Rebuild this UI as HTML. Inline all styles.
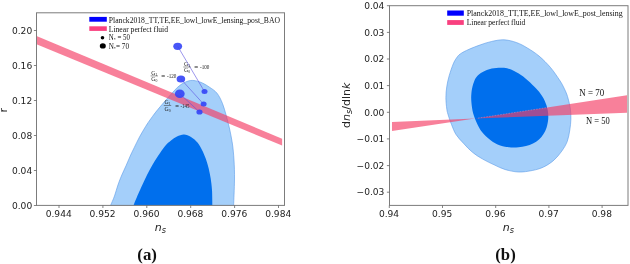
<!DOCTYPE html>
<html><head><meta charset="utf-8"><title>figure</title>
<style>
html,body{margin:0;padding:0;background:#fff;}
svg{display:block;}
.t{font-family:"DejaVu Sans",sans-serif;font-size:9.1px;fill:#222;}
.l{font-family:"DejaVu Sans",sans-serif;font-size:11px;fill:#222;}
.cap{font-family:"Liberation Serif",serif;font-weight:bold;font-size:16px;fill:#111;}
.s{font-family:"Liberation Serif",serif;font-size:8.6px;fill:#111;}
.s2{font-family:"Liberation Serif",serif;font-size:7.6px;fill:#111;}
.s3{font-family:"Liberation Serif",serif;font-size:5.8px;fill:#222;}
.n{font-family:"Liberation Serif",serif;font-size:11px;fill:#111;}
</style></head><body>
<svg width="630" height="264" viewBox="0 0 630 264">
<rect width="630" height="264" fill="#fff"/>
<clipPath id="ca"><rect x="36.5" y="12.8" width="248.0" height="192.6"/></clipPath>
<g clip-path="url(#ca)">
<path d="M110.5,205.5C111.2,203.9 113.3,199.4 114.5,196.0C115.7,192.6 116.7,188.6 117.9,185.1C119.1,181.6 120.4,178.2 121.8,175.0C123.2,171.8 124.7,168.7 126.1,165.6C127.5,162.5 128.7,159.5 130.0,156.5C131.3,153.5 132.6,150.9 134.2,147.7C135.8,144.4 137.6,140.5 139.5,137.0C141.4,133.5 143.7,129.6 145.6,126.5C147.5,123.4 149.0,121.3 151.0,118.5C153.0,115.7 154.9,113.1 157.6,109.8C160.3,106.5 164.3,101.9 167.0,98.8C169.7,95.7 171.7,93.4 174.0,91.0C176.3,88.6 178.2,86.2 181.0,84.5C183.8,82.8 187.3,80.9 190.5,80.5C193.7,80.1 196.8,80.9 200.0,82.0C203.2,83.1 206.7,85.3 209.5,87.2C212.3,89.1 214.8,90.5 217.0,93.2C219.2,95.9 221.0,99.8 222.5,103.5C224.0,107.2 225.0,111.3 226.2,115.4C227.3,119.5 228.4,123.4 229.4,128.0C230.4,132.6 231.5,137.7 232.3,143.0C233.1,148.3 233.6,153.8 234.0,160.0C234.4,166.2 234.6,172.4 234.5,180.0C234.4,187.6 233.8,201.2 233.6,205.5L110.5,205.5Z" fill="#a4cffa" stroke="#5b9be8" stroke-width="0.6"/>
<path d="M133.5,205.5C134.2,203.7 136.5,197.9 138.0,194.5C139.5,191.1 140.8,188.3 142.3,185.1C143.8,181.8 145.4,178.2 147.0,175.0C148.6,171.8 150.3,168.8 152.1,165.6C153.9,162.4 155.8,159.3 158.0,156.0C160.2,152.7 162.9,148.6 165.1,146.0C167.3,143.4 169.0,142.1 171.0,140.5C173.0,138.9 174.8,137.5 177.0,136.5C179.2,135.5 181.7,134.4 184.0,134.5C186.3,134.6 188.7,135.6 191.0,137.0C193.3,138.4 195.9,140.6 197.7,142.8C199.5,145.0 200.6,147.3 202.0,150.0C203.4,152.7 204.8,156.0 205.9,159.1C207.0,162.2 207.9,165.2 208.7,168.5C209.5,171.8 210.1,175.0 210.7,178.6C211.2,182.2 211.7,185.5 212.0,190.0C212.3,194.5 212.3,202.9 212.4,205.5L133.5,205.5Z" fill="#006fed"/>
<polygon points="36.5,35.9 282.1,138.75 282.1,145.6 36.5,44.2" fill="#f53c64" fill-opacity="0.65"/>
</g>
<g stroke="#5a50e0" stroke-width="0.6" fill="none"><path d="M177.7,46.3L204.5,91.6M180.9,79.1L203.6,104.1M179.8,93.8L199.5,112"/></g>
<ellipse cx="177.7" cy="46.3" rx="4.4" ry="3.6" fill="#3444f6" fill-opacity="0.9"/>
<ellipse cx="180.9" cy="79.1" rx="4.3" ry="3.5" fill="#3444f6" fill-opacity="0.9"/>
<ellipse cx="179.8" cy="93.8" rx="4.9" ry="4.3" fill="#3444f6" fill-opacity="0.9"/>
<ellipse cx="204.5" cy="91.6" rx="3" ry="2.5" fill="#3444f6" fill-opacity="0.9"/>
<ellipse cx="203.6" cy="104.1" rx="3" ry="2.5" fill="#3444f6" fill-opacity="0.9"/>
<ellipse cx="199.5" cy="112" rx="3.1" ry="2.6" fill="#3444f6" fill-opacity="0.9"/>
<rect x="36.5" y="12.8" width="248.0" height="192.6" fill="none" stroke="#7c7c7c" stroke-width="1"/>
<text x="32.2" y="208.7" text-anchor="end" class="t">0.00</text>
<text x="32.2" y="173.7" text-anchor="end" class="t">0.04</text>
<text x="32.2" y="138.7" text-anchor="end" class="t">0.08</text>
<text x="32.2" y="103.7" text-anchor="end" class="t">0.12</text>
<text x="32.2" y="68.7" text-anchor="end" class="t">0.16</text>
<text x="32.2" y="33.7" text-anchor="end" class="t">0.20</text>
<text x="58.7" y="217.4" text-anchor="middle" class="t">0.944</text>
<text x="102.6" y="217.4" text-anchor="middle" class="t">0.952</text>
<text x="146.5" y="217.4" text-anchor="middle" class="t">0.960</text>
<text x="190.4" y="217.4" text-anchor="middle" class="t">0.968</text>
<text x="234.3" y="217.4" text-anchor="middle" class="t">0.976</text>
<text x="278.2" y="217.4" text-anchor="middle" class="t">0.984</text>
<path d="M36.5,205.5h-2.6M36.5,170.5h-2.6M36.5,135.5h-2.6M36.5,100.5h-2.6M36.5,65.5h-2.6M36.5,30.5h-2.6M59.0,205.4v2.6M102.9,205.4v2.6M146.8,205.4v2.6M190.7,205.4v2.6M234.6,205.4v2.6M278.5,205.4v2.6" stroke="#666" stroke-width="0.8" fill="none"/>
<text x="160.5" y="231.3" text-anchor="middle" class="l"><tspan font-style="italic">n</tspan><tspan font-style="italic" font-size="8.2" dy="2.1">s</tspan></text>
<text transform="translate(6.8,110.2) rotate(-90)" text-anchor="middle" class="l">r</text>
<text x="137.3" y="260.2" class="cap" textLength="19.6" lengthAdjust="spacingAndGlyphs">(a)</text>
<rect x="89.3" y="16.9" width="17.5" height="4.8" fill="#0000ff"/>
<rect x="89.3" y="26.3" width="17.5" height="4.6" fill="#f9407f"/>
<text x="108.8" y="22.8" class="s" textLength="171.2" lengthAdjust="spacingAndGlyphs">Planck2018_TT,TE,EE_lowl_lowE_lensing_post_BAO</text>
<text x="108.8" y="31.8" class="s" textLength="59.2" lengthAdjust="spacingAndGlyphs">Linear perfect fluid</text>
<circle cx="102.5" cy="37.7" r="1.8" fill="#000"/>
<ellipse cx="102.8" cy="45.9" rx="3.0" ry="2.7" fill="#000"/>
<text x="108.7" y="39.8" class="s2" textLength="21.3" lengthAdjust="spacingAndGlyphs">N<tspan font-size="4.6" dy="1.2">*</tspan><tspan dy="-1.2"> = 50</tspan></text>
<text x="108.7" y="49" class="s2" textLength="20.3" lengthAdjust="spacingAndGlyphs">N<tspan font-size="4.6" dy="1.2">*</tspan><tspan dy="-1.2">= 70</tspan></text>
<text x="187" y="65.6" class="s3" text-anchor="middle">G<tspan font-size="3.8" dy="1">1</tspan></text>
<path d="M183.3,67h7.4" stroke="#333" stroke-width="0.5"/>
<text x="187" y="72.4" class="s3" text-anchor="middle">G<tspan font-size="3.8" dy="1">0</tspan></text>
<text x="194.3" y="68.6" class="s3" textLength="15" lengthAdjust="spacingAndGlyphs">≃ -100</text>
<text x="154.3" y="74.5" class="s3" text-anchor="middle">G<tspan font-size="3.8" dy="1">1</tspan></text>
<path d="M150.60000000000002,75.9h7.4" stroke="#333" stroke-width="0.5"/>
<text x="154.3" y="81.30000000000001" class="s3" text-anchor="middle">G<tspan font-size="3.8" dy="1">0</tspan></text>
<text x="161.4" y="78.2" class="s3" textLength="15" lengthAdjust="spacingAndGlyphs">≃ -120</text>
<text x="167.5" y="104.1" class="s3" text-anchor="middle">G<tspan font-size="3.8" dy="1">1</tspan></text>
<path d="M163.8,105.5h7.4" stroke="#333" stroke-width="0.5"/>
<text x="167.5" y="110.9" class="s3" text-anchor="middle">G<tspan font-size="3.8" dy="1">0</tspan></text>
<text x="175.2" y="107.7" class="s3" textLength="14.1" lengthAdjust="spacingAndGlyphs">≃ -145</text>
<clipPath id="cb"><rect x="389.5" y="5.7" width="238.5" height="199.70000000000002"/></clipPath>
<g clip-path="url(#cb)">
<path d="M504.0,39.8C508.1,40.0 512.4,41.1 516.4,42.5C520.4,43.9 523.9,45.9 527.7,48.2C531.5,50.5 535.3,52.9 539.1,56.1C542.9,59.3 547.1,63.5 550.5,67.5C553.9,71.5 557.2,76.6 559.5,80.0C561.8,83.4 562.7,85.3 564.0,88.0C565.3,90.7 566.5,93.1 567.5,96.4C568.5,99.7 569.6,103.9 570.2,107.7C570.8,111.5 571.0,115.4 570.9,119.1C570.8,122.8 570.4,126.3 569.8,130.0C569.2,133.7 568.6,137.8 567.3,141.3C566.0,144.8 564.0,147.9 561.8,151.1C559.6,154.2 556.9,157.5 553.9,160.2C550.9,162.8 547.2,165.3 543.6,167.0C540.0,168.7 536.5,169.7 532.3,170.5C528.1,171.3 523.1,172.2 518.6,172.0C514.1,171.8 509.1,170.7 505.0,169.5C500.9,168.3 497.8,166.5 494.1,164.8C490.4,163.1 486.3,161.2 482.7,159.1C479.1,157.0 475.7,155.0 472.5,152.3C469.3,149.7 466.1,146.2 463.4,143.2C460.6,140.2 458.0,137.6 456.0,134.5C454.0,131.4 452.8,127.6 451.5,124.5C450.2,121.4 449.3,118.6 448.5,116.0C447.7,113.4 447.2,112.1 446.8,109.1C446.4,106.0 445.9,101.5 445.9,97.7C445.9,93.9 446.2,90.1 446.8,86.4C447.4,82.7 448.2,79.0 449.3,75.3C450.4,71.6 452.0,66.9 453.2,64.0C454.4,61.1 455.3,59.7 456.5,58.0C457.7,56.3 458.2,55.4 460.3,53.9C462.4,52.4 465.6,50.8 469.0,49.3C472.4,47.8 476.7,46.1 480.5,44.8C484.3,43.5 487.9,42.2 491.8,41.4C495.7,40.6 499.9,39.6 504.0,39.8Z" fill="#a4cffa" stroke="#5b9be8" stroke-width="0.6"/>
<path d="M504.0,67.8C507.7,68.2 510.9,69.4 514.1,70.9C517.3,72.4 520.2,74.3 523.2,76.6C526.2,78.9 529.6,82.2 532.3,84.7C534.9,87.2 537.0,89.1 539.1,91.8C541.2,94.5 543.4,97.9 544.8,100.9C546.2,103.9 547.1,107.0 547.7,110.0C548.3,113.0 548.4,116.2 548.2,119.1C548.0,122.0 547.4,125.0 546.6,127.5C545.8,130.0 544.8,132.0 543.5,134.0C542.2,136.0 540.8,137.9 539.0,139.5C537.2,141.1 535.2,142.4 533.0,143.5C530.8,144.6 528.4,145.4 526.0,146.0C523.6,146.6 521.1,147.1 518.6,147.3C516.1,147.6 513.3,147.6 511.0,147.5C508.7,147.4 507.6,147.5 505.0,146.8C502.4,146.1 498.1,144.8 495.2,143.2C492.2,141.6 489.6,139.4 487.3,137.5C485.0,135.6 483.2,133.7 481.6,131.5C480.0,129.3 478.9,127.5 477.5,124.5C476.1,121.5 474.2,117.3 473.2,113.6C472.2,109.9 471.7,105.7 471.4,102.3C471.1,98.9 471.1,96.2 471.4,93.2C471.7,90.2 472.3,86.8 473.2,84.1C474.1,81.4 474.9,79.0 476.5,77.0C478.1,75.0 480.1,73.4 482.7,72.0C485.2,70.6 488.2,69.3 491.8,68.6C495.4,67.9 500.3,67.4 504.0,67.8Z" fill="#006fed"/>
<polygon points="392,122 475,118.6 627,95.3 627,112.7 475,118.6 392,131" fill="#f53c64" fill-opacity="0.65"/>
<path d="M478,118.1L548,107.4" stroke="#f7b0c8" stroke-opacity="0.7" stroke-width="0.5" stroke-dasharray="1.6,1.2" fill="none"/>
</g>
<rect x="389.5" y="5.7" width="238.5" height="199.70000000000002" fill="none" stroke="#7c7c7c" stroke-width="1"/>
<text x="384.4" y="8.9" text-anchor="end" class="t">0.04</text>
<text x="384.4" y="35.6" text-anchor="end" class="t">0.03</text>
<text x="384.4" y="62.2" text-anchor="end" class="t">0.02</text>
<text x="384.4" y="88.8" text-anchor="end" class="t">0.01</text>
<text x="384.4" y="115.5" text-anchor="end" class="t">0.00</text>
<text x="384.4" y="142.1" text-anchor="end" class="t">−0.01</text>
<text x="384.4" y="168.8" text-anchor="end" class="t">−0.02</text>
<text x="384.4" y="195.4" text-anchor="end" class="t">−0.03</text>
<text x="389.0" y="217.4" text-anchor="middle" class="t">0.94</text>
<text x="442.2" y="217.4" text-anchor="middle" class="t">0.95</text>
<text x="495.4" y="217.4" text-anchor="middle" class="t">0.96</text>
<text x="548.6" y="217.4" text-anchor="middle" class="t">0.97</text>
<text x="601.8" y="217.4" text-anchor="middle" class="t">0.98</text>
<path d="M389.5,5.7h-2.6M389.5,32.4h-2.6M389.5,59.0h-2.6M389.5,85.6h-2.6M389.5,112.3h-2.6M389.5,138.9h-2.6M389.5,165.6h-2.6M389.5,192.2h-2.6M389.3,205.4v2.6M442.5,205.4v2.6M495.7,205.4v2.6M548.9,205.4v2.6M602.1,205.4v2.6" stroke="#666" stroke-width="0.8" fill="none"/>
<text x="508.5" y="231.3" text-anchor="middle" class="l"><tspan font-style="italic">n</tspan><tspan font-style="italic" font-size="8.2" dy="2.1">s</tspan></text>
<text transform="translate(349.7,105.3) rotate(-90)" text-anchor="middle" class="l">d<tspan font-style="italic">n</tspan><tspan font-style="italic" font-size="8.2" dy="2.1">s</tspan><tspan dy="-2.1">/dln</tspan><tspan font-style="italic">k</tspan></text>
<text x="495.3" y="260.3" class="cap" textLength="20.4" lengthAdjust="spacingAndGlyphs">(b)</text>
<rect x="447.2" y="10.5" width="16.6" height="5.2" fill="#0000ff"/>
<rect x="447.2" y="20.1" width="16.6" height="4.8" fill="#f9407f"/>
<text x="466.7" y="15.9" class="s" textLength="156" lengthAdjust="spacingAndGlyphs">Planck2018_TT,TE,EE_lowl_lowE_post_lensing</text>
<text x="466.7" y="25.2" class="s" textLength="58.7" lengthAdjust="spacingAndGlyphs">Linear perfect fluid</text>
<text x="579.3" y="95.5" class="n" textLength="24.8" lengthAdjust="spacingAndGlyphs">N = 70</text>
<text x="586" y="124.4" class="n" textLength="23.7" lengthAdjust="spacingAndGlyphs">N = 50</text>
</svg>
</body></html>
